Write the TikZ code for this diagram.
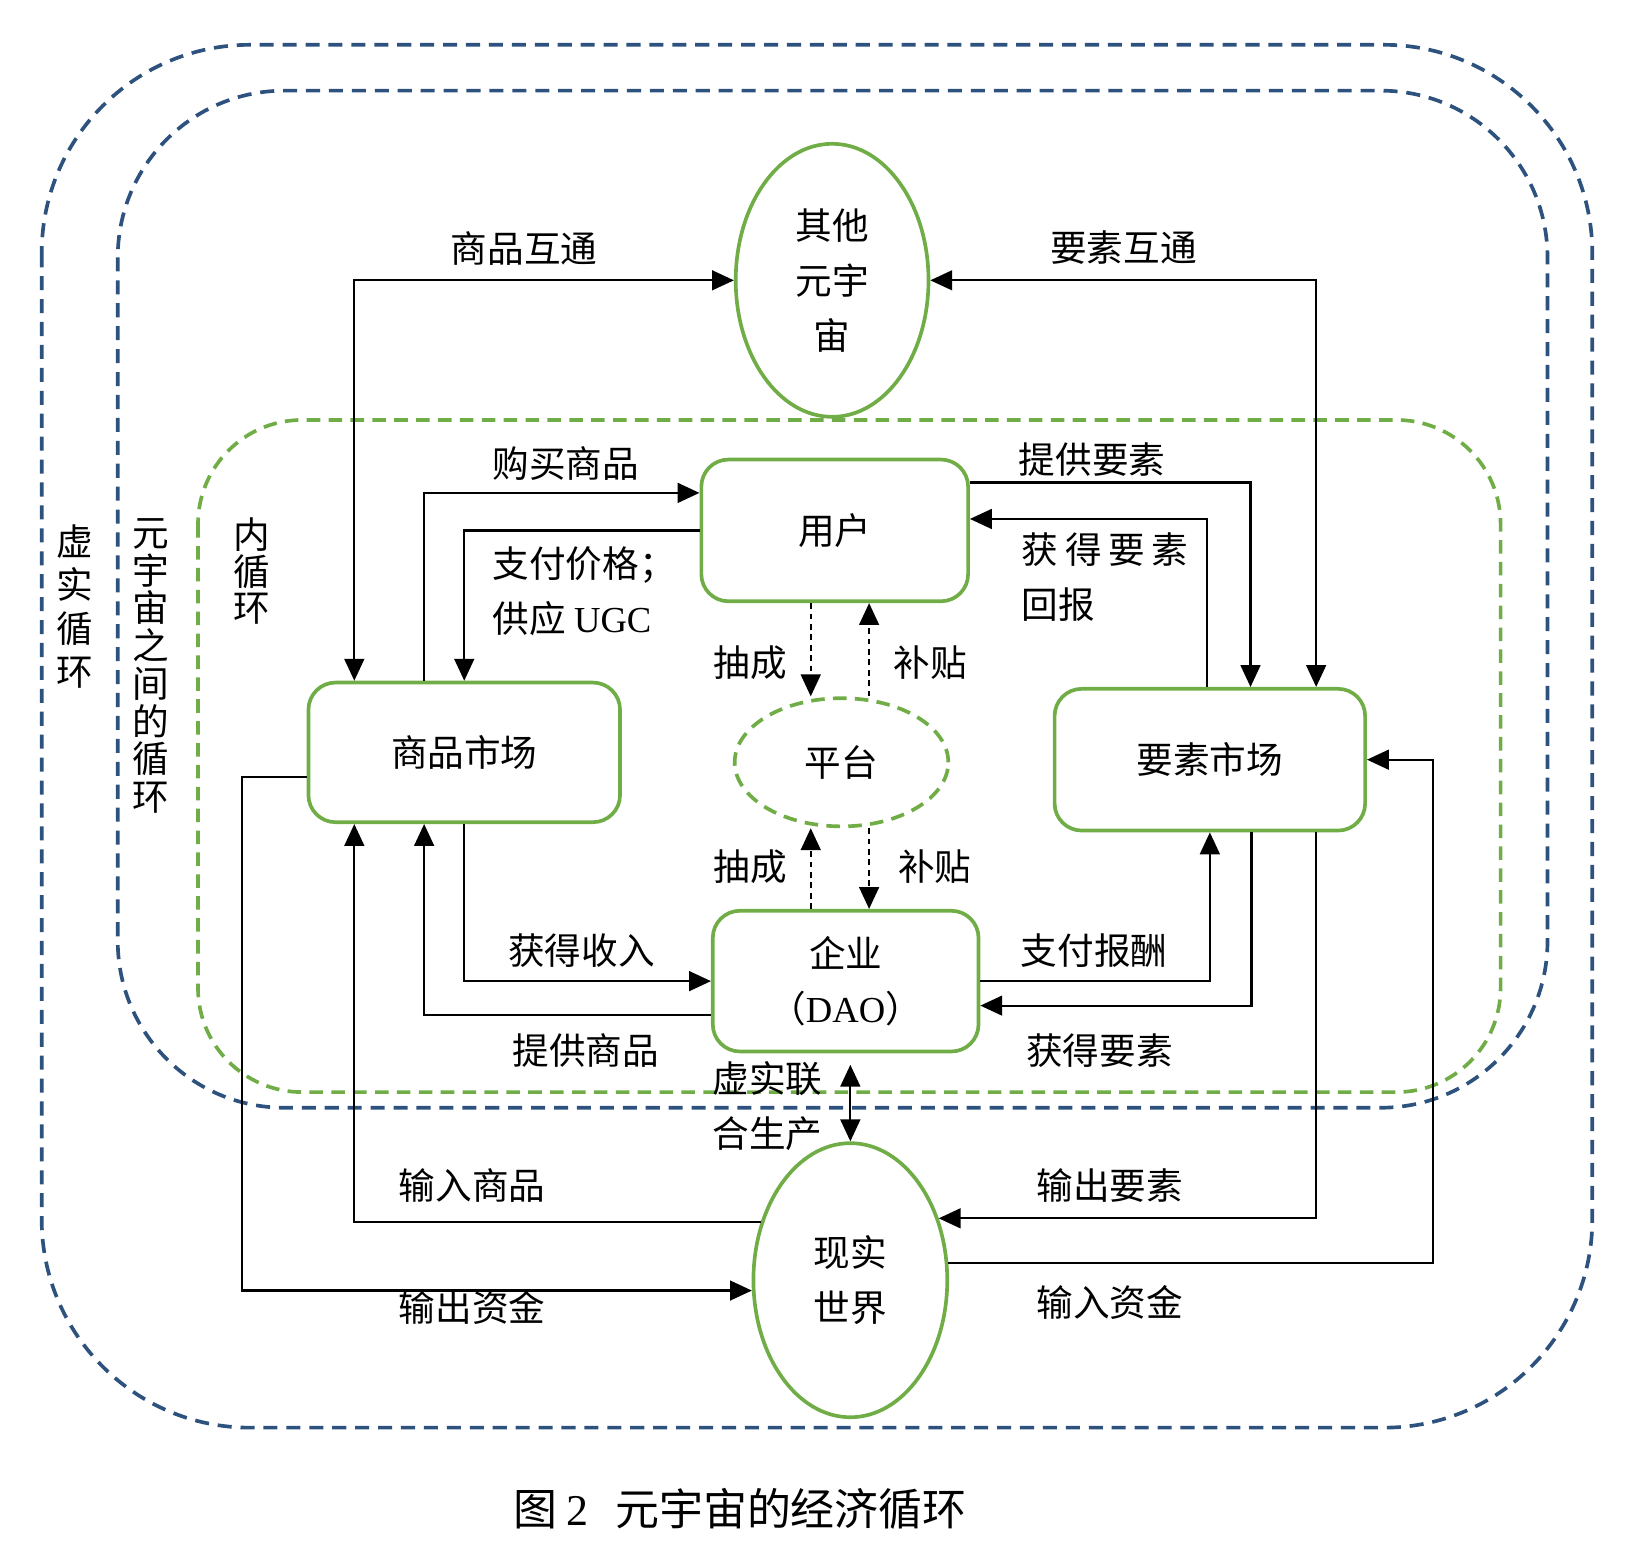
\documentclass[tikz,border=0pt]{standalone}
\usepackage{fontspec}
\setmainfont{Liberation Serif}
\newfontfamily\cjk{Noto Sans CJK SC}
\usetikzlibrary{shapes.geometric,arrows.meta}
\definecolor{loopblue}{RGB}{46,82,126}
\definecolor{boxgreen}{RGB}{112,173,71}
\newcommand{\lblfont}{\cjk\fontsize{10pt}{15pt}\selectfont}

\begin{document}
\begin{tikzpicture}[
  x=0.1mm, y=-0.1mm,
  loop/.style={draw=loopblue, line width=1pt, dash pattern=on 1.35mm off 0.85mm},
  inloop/.style={draw=boxgreen, line width=1pt, dash pattern=on 1.3mm off 0.8mm},
  rbox/.style={draw=boxgreen, line width=1pt, rounded corners=2.6mm, inner sep=0pt, font=\lblfont, align=center},
  oval/.style={ellipse, draw=boxgreen, line width=1pt, inner sep=0pt, font=\lblfont, align=center},
  lbl/.style={font=\lblfont, inner sep=0pt, align=center},
  flow/.style={line width=0.6pt, -{Triangle[length=2.1mm,width=1.9mm]}},
  twoway/.style={line width=0.6pt, {Triangle[length=2.1mm,width=1.9mm]}-{Triangle[length=2.1mm,width=1.9mm]}},
  cut/.style={flow, dash pattern=on 0.55mm off 0.45mm}
]
  \useasboundingbox (0,0) rectangle (1568,1480);
  \draw[loop, rounded corners=20mm] (40,43) rectangle (1528,1370);
  \draw[loop, rounded corners=16mm] (113,87) rectangle (1485,1063);
  \draw[inloop, rounded corners=10mm] (190,403) rectangle (1440,1048);

  \node[oval, minimum width=18.5mm, minimum height=26.2mm] (other) at (798.5,269) {其他\\元宇\\宙};
  \node[rbox, minimum width=25.6mm, minimum height=13.6mm] (user) at (801,509) {用户};
  \node[rbox, minimum width=29.9mm, minimum height=13.4mm] (shop) at (445.5,722) {商品市场};
  \node[oval, inloop, minimum width=20.5mm, minimum height=12.3mm] (platform) at (807.5,731.5) {平台};
  \node[rbox, minimum width=29.8mm, minimum height=13.6mm] (factor) at (1161,729) {要素市场};
  \node[rbox, minimum width=25.5mm, minimum height=13.5mm] (firm) at (811.5,941.5) {企业\\（{\rmfamily DAO}）};
  \node[oval, minimum width=18.6mm, minimum height=26.3mm] (real) at (816,1228.5) {现实\\世界};

  \node[lbl, font=\cjk\fontsize{10pt}{11.9pt}\selectfont] (vloop) at (72,582) {虚\\实\\循\\环};
  \node[lbl, font=\cjk\fontsize{10pt}{10.3pt}\selectfont] (mloop) at (145,639) {元\\宇\\宙\\之\\间\\的\\循\\环};
  \node[lbl, font=\cjk\fontsize{10pt}{10pt}\selectfont] (iloop) at (242,548) {内\\循\\环};

  \node[lbl] (l-gx) at (503,238) {商品互通};
  \node[lbl] (l-fx) at (1078,238) {要素互通};
  \node[lbl] (l-buy) at (543,445) {购买商品};
  \node[lbl, align=left, anchor=west] (l-pay) at (472,567) {支付价格；\\供应 {\rmfamily UGC}};
  \node[lbl] (l-give) at (1048,441) {提供要素};
  \node[lbl, align=left, anchor=west] (l-ret) at (980,554) {获\hspace{0.18em}得\hspace{0.18em}要\hspace{0.18em}素\\回报};
  \node[lbl] (l-cut1) at (720,636) {抽成};
  \node[lbl] (l-sub1) at (893,636) {补贴};
  \node[lbl] (l-cut2) at (720,832) {抽成};
  \node[lbl] (l-sub2) at (897,832) {补贴};
  \node[lbl] (l-inc) at (558,912) {获得收入};
  \node[lbl] (l-sup) at (562,1008) {提供商品};
  \node[lbl] (l-wage) at (1050,912) {支付报酬};
  \node[lbl] (l-get) at (1055,1008) {获得要素};
  \node[lbl, align=left, anchor=west] (l-mix) at (683,1061) {虚实联\\合生产};
  \node[lbl] (l-ing) at (453,1138) {输入商品};
  \node[lbl] (l-outm) at (453,1255) {输出资金};
  \node[lbl] (l-outf) at (1065,1138) {输出要素};
  \node[lbl] (l-inm) at (1065,1250) {输入资金};

  \draw[twoway] ([xshift=-10.55mm]shop.north) |- (other.west);
  \draw[twoway] (other.east) -| ([xshift=10.2mm]factor.north);
  \draw[flow] ([xshift=-3.85mm]shop.north) |- ([yshift=3.6mm]user.west);
  \draw[flow] (user.west) -| (shop.north);
  \draw[flow] ([yshift=4.6mm]user.east) -| ([xshift=3.9mm]factor.north);
  \draw[flow] ([xshift=-0.3mm]factor.north) |- ([yshift=1.1mm]user.east);
  \draw[cut] ([xshift=-2.3mm]user.south) -- ([xshift=-2.3mm]user.south |- platform.north);
  \draw[cut] ([xshift=2.65mm]platform.north) -- ([xshift=2.65mm]platform.north |- user.south);
  \draw[cut] ([xshift=-3.35mm]firm.north) -- ([xshift=-3.35mm]firm.north |- platform.south);
  \draw[cut] ([xshift=2.65mm]platform.south) -- ([xshift=2.65mm]platform.south |- firm.north);
  \draw[flow] (shop.south) |- (firm.west);
  \draw[flow] ([yshift=-3.25mm]firm.west) -| ([xshift=-3.85mm]shop.south);
  \draw[flow] (firm.east) -| (factor.south);
  \draw[flow] ([xshift=4mm]factor.south) |- ([yshift=-2.35mm]firm.east);
  \draw[twoway, shorten <=1.1mm] (real.north |- firm.south) -- (real.north);
  \draw[flow] (real.147) -| ([xshift=-10.55mm]shop.south);
  \draw[flow] ([yshift=-2.4mm]shop.west) -- ++(-6.2mm,0) |- (real.186);
  \draw[flow] ([xshift=10.2mm]factor.south) |- (real.35);
  \draw[flow] (real.10) -- ++(46.5mm,0) |- (factor.east);

  \node[font=\cjk\fontsize{12pt}{14pt}\selectfont, inner sep=0pt] (caption) at (710,1448) {图 {\rmfamily 2}\hspace{0.6em}元宇宙的经济循环};
\end{tikzpicture}
\end{document}
